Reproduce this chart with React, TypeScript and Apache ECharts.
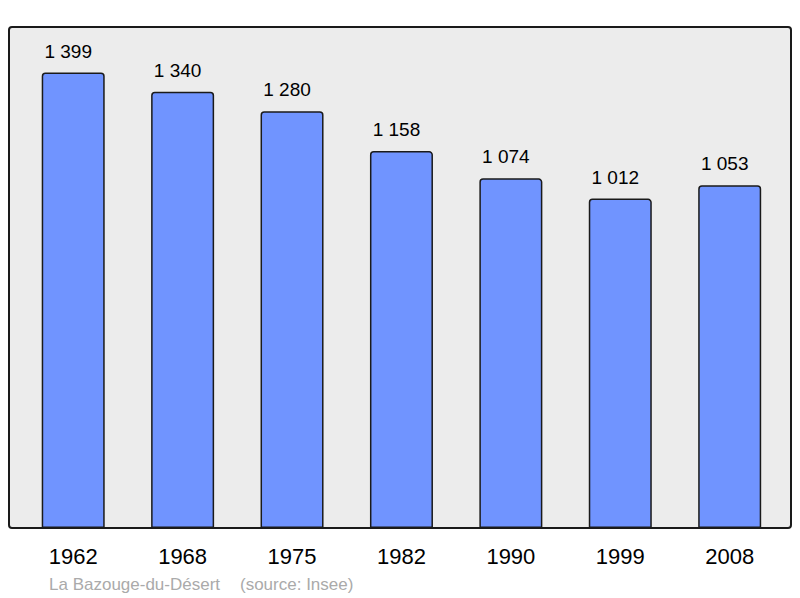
import React, { useEffect, useRef } from "react";
import * as echarts from "echarts";

const years = ["1962", "1968", "1975", "1982", "1990", "1999", "2008"];
const population = [1399, 1340, 1280, 1158, 1074, 1012, 1053];
const placeName = "La Bazouge-du-Désert";
const sourceText = "(source: Insee)";

const FONT = "'Liberation Sans', Arial, sans-serif";

function formatThousands(v: number): string {
  const s = String(v);
  return s.length > 3 ? s.slice(0, s.length - 3) + " " + s.slice(s.length - 3) : s;
}

export default function App() {
  const ref = useRef<HTMLDivElement>(null);
  useEffect(() => {
    document.body.style.margin = "0";
    if (!ref.current) return;
    const chart = echarts.init(ref.current, undefined, { renderer: "svg" });
    chart.setOption({
      animation: false,
      backgroundColor: "#ffffff",
      grid: { left: 18.5, right: 15.6, top: 27, bottom: 70, containLabel: false },
      xAxis: {
        type: "category",
        data: years,
        axisLine: { show: false },
        axisTick: { show: false },
        axisLabel: { color: "#000", fontSize: 22, fontFamily: FONT, margin: 17 },
      },
      yAxis: {
        type: "value",
        min: 0,
        max: 1539,
        show: false,
        splitLine: { show: false },
      },
      graphic: [
        {
          type: "rect",
          z: -10,
          shape: { x: 9, y: 27, width: 782, height: 501, r: 3 },
          style: { fill: "#ececec", stroke: "none" },
        },
        {
          type: "rect",
          z: 100,
          shape: { x: 9, y: 27, width: 782, height: 501, r: 3 },
          style: { fill: "none", stroke: "#1a1a1a", lineWidth: 2 },
        },
        {
          type: "text",
          x: 49,
          y: 584.5,
          style: {
            text: placeName,
            fill: "#aaaaaa",
            fontSize: 17,
            fontFamily: FONT,
            verticalAlign: "middle",
          },
        },
        {
          type: "text",
          x: 240,
          y: 584.5,
          style: {
            text: sourceText,
            fill: "#aaaaaa",
            fontSize: 17,
            fontFamily: FONT,
            verticalAlign: "middle",
          },
        },
      ],
      series: [
        {
          type: "bar",
          data: population,
          barWidth: 63,
          itemStyle: {
            color: "#7094ff",
            borderColor: "#1a1a1a",
            borderWidth: 1.5,
            borderRadius: [3, 3, 0, 0],
          },
          label: {
            show: true,
            position: "top",
            distance: 12,
            offset: [-5, 0],
            color: "#000",
            fontSize: 19,
            fontFamily: FONT,
            formatter: (p: any) => formatThousands(p.value),
          },
        },
      ],
    });
    return () => chart.dispose();
  }, []);
  return <div ref={ref} style={{ width: 800, height: 598 }} />;
}
